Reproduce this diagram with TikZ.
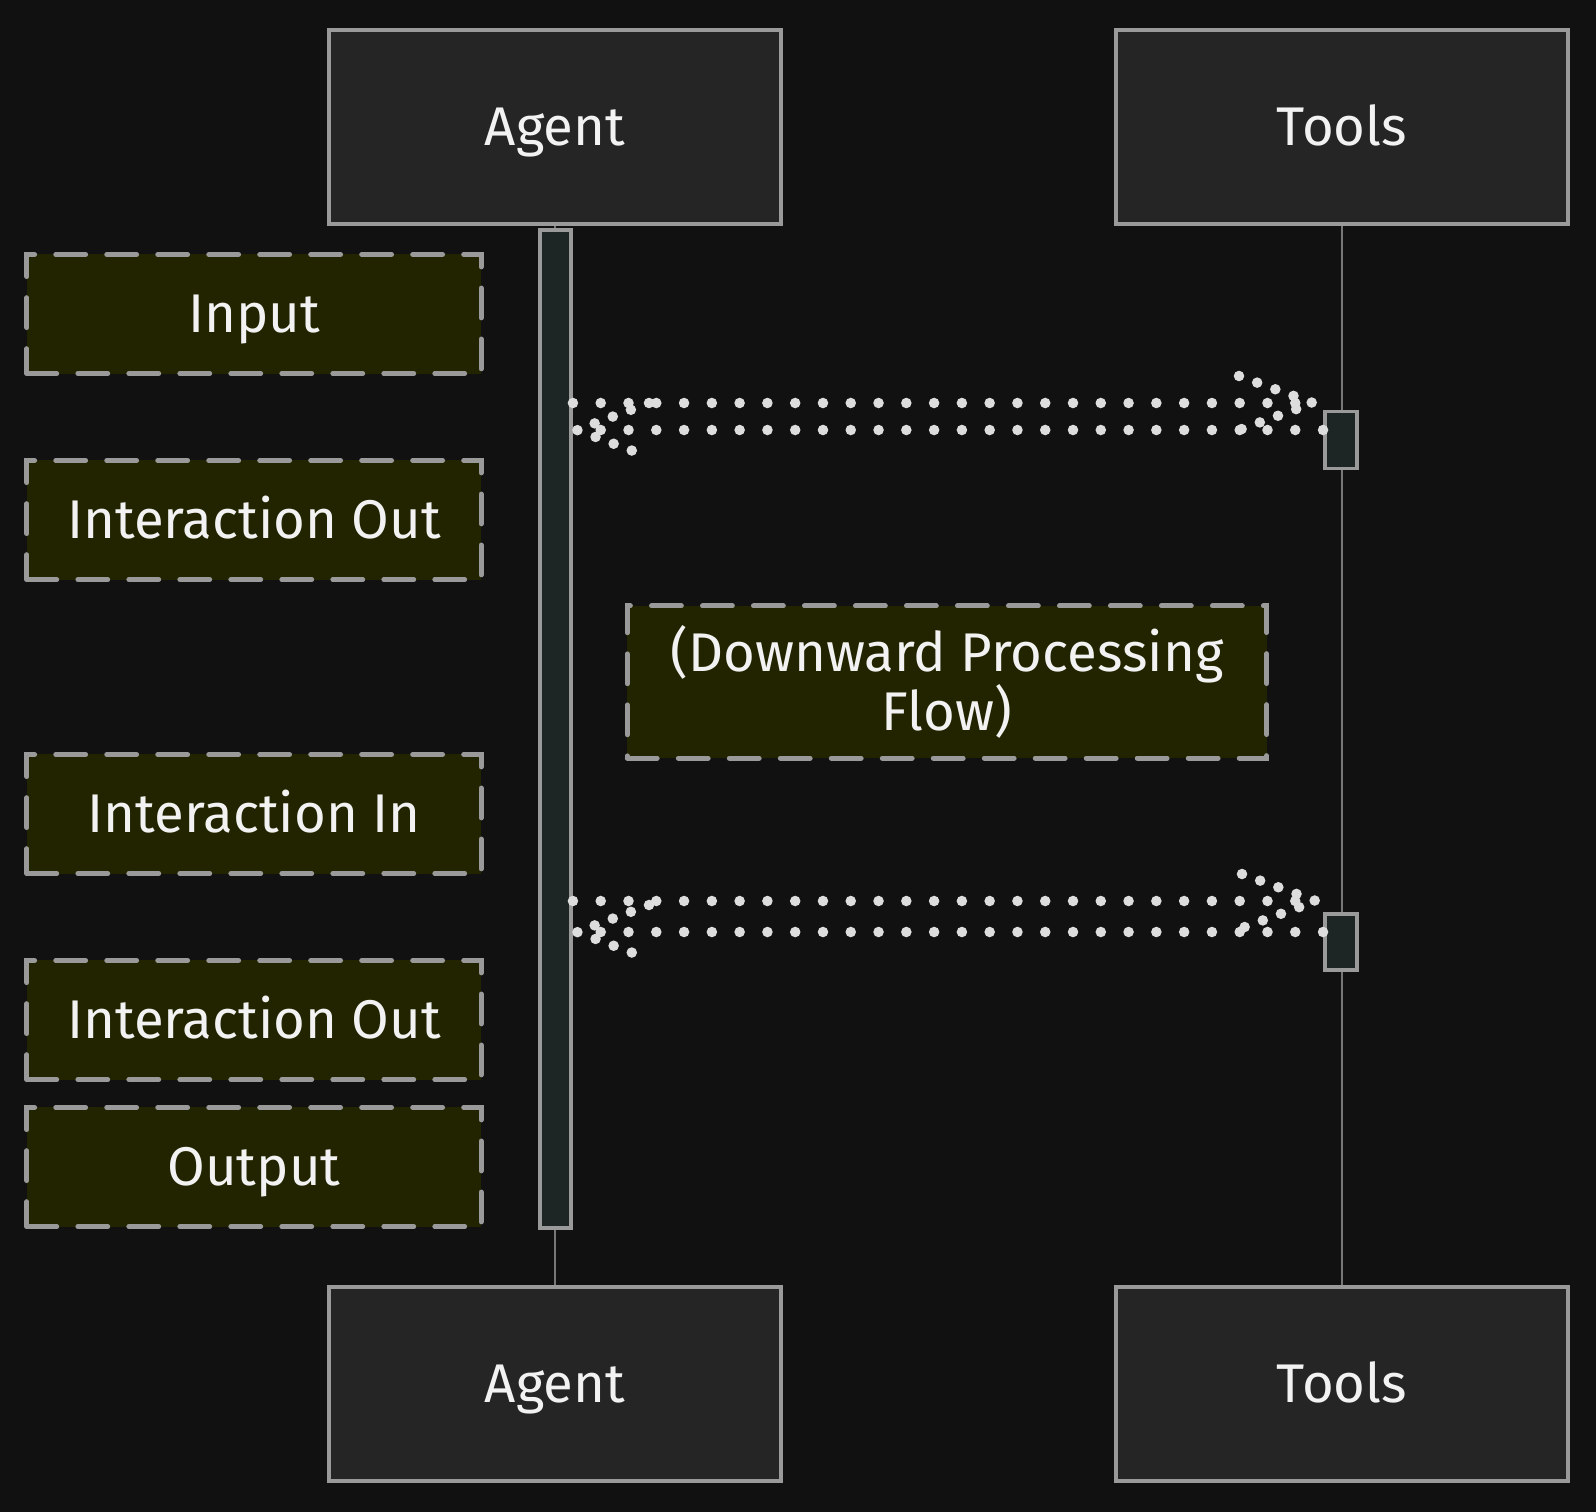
\documentclass[tikz,border=0pt]{standalone}
\usepackage{fontspec}
\setmainfont{Fira Sans}
\usepackage{tikz}
\usetikzlibrary{positioning, calc}
\definecolor{bgc}{HTML}{111111}
\definecolor{actfill}{HTML}{252525}
\definecolor{edge}{HTML}{9A9A9A}
\definecolor{notefill}{HTML}{222400}
\definecolor{barfill}{HTML}{1E2525}
\definecolor{lifec}{HTML}{777777}
\definecolor{msgc}{HTML}{DDDDDD}
\definecolor{txt}{HTML}{F2F2F2}

\begin{document}
\begin{tikzpicture}[x=0.01cm, y=-0.01cm,
  actor/.style={rectangle, draw=edge, fill=actfill, line width=1.2pt,
    minimum width=4.52cm, minimum height=1.94cm, text=txt,
    text height=14pt, text depth=3.6pt,
    font=\fontsize{15.5}{19}\selectfont},
  flownote/.style={rectangle, draw=edge, fill=notefill, line width=1.4pt,
    dash pattern=on 8.5pt off 6pt, line cap=round, minimum width=4.54cm,
    minimum height=1.19cm, text=txt, align=center,
    font=\fontsize{15.5}{17}\selectfont},
  note/.style={flownote, text height=14pt, text depth=3.6pt},
  bar/.style={rectangle, draw=edge, fill=barfill, line width=1.1pt,
    minimum width=0.31cm, inner sep=0pt},
  life/.style={draw=lifec, line width=0.6pt},
  msg/.style={draw=msgc, line width=3pt, line cap=round,
    dash pattern=on 0pt off 7.9pt},
  chev/.style={msg, dash pattern=on 0pt off 5.5pt}
]
\fill[bgc] (0,0) rectangle (1596,1512);
\useasboundingbox (0,0) rectangle (1596,1512);

% Participants
\node[actor] (agtop) at (555,127) {Agent};
\node[actor] (tltop) at (1342,127) {Tools};
\node[actor] (agbot) at (555,1384) {Agent};
\node[actor] (tlbot) at (1342,1384) {Tools};

% Lifelines
\draw[life] (agtop) -- (agbot);
\draw[life] (tltop) -- (tlbot);

% Activations
\node[bar, minimum height=9.98cm] (agbar) at (555.5,729) {};
\node[bar, minimum width=0.32cm, minimum height=0.57cm] (tact1) at (1341,440) {};
\node[bar, minimum width=0.32cm, minimum height=0.56cm] (tact2) at (1341,942) {};

% Notes
\node[note] (input) at (254,314) {Input};
\node[note] (iout1) at (254,520) {Interaction Out};
\node[note] (iin) at (254,814) {Interaction In};
\node[note] (iout2) at (254,1020) {Interaction Out};
\node[note] (output) at (254,1167) {Output};
\node[flownote, minimum width=6.39cm, minimum height=1.52cm] (flow) at (947,682)
  {(Downward Processing\\Flow)};

% Messages
\coordinate (call1) at (1313,403);
\coordinate (back1) at (577,430);
\coordinate (call2) at (1316,901);
\coordinate (back2) at (577,932);

\draw[msg] (agbar.east |- call1) -- (call1);
\draw[chev] (call1) ++(-74,-27) -- (call1) -- ++(-74,27);
\draw[msg] (tact1.west |- back1) -- (back1);
\draw[chev] (back1) ++(72,-27) -- (back1) -- ++(72,27);

\draw[msg] (agbar.east |- call2) -- (call2);
\draw[chev] (call2) ++(-74,-27) -- (call2) -- ++(-74,27);
\draw[msg] (tact2.west |- back2) -- (back2);
\draw[chev] (back2) ++(72,-27) -- (back2) -- ++(72,27);

\end{tikzpicture}
\end{document}
